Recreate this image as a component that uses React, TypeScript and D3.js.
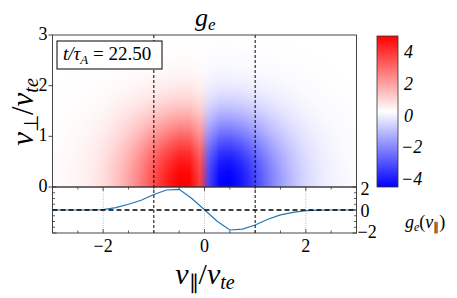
import * as d3 from 'd3';

const W = 457;
const H = 298;

// lower panel: g_e(v_par)
const vParLine = [-3, -2.75, -2.5, -2.25, -2, -1.75, -1.5, -1.25, -1, -0.75, -0.5, -0.25, 0,
  0.25, 0.5, 0.75, 1, 1.25, 1.5, 1.75, 2, 2.25, 2.5, 2.75, 3];
const gLine = [0, 0, 0, 0.01, 0.04, 0.2, 0.5, 0.85, 1.35, 1.74, 1.8, 1.0, 0.02,
  -0.98, -1.74, -1.66, -1.3, -0.8, -0.42, -0.2, -0.06, -0.01, 0, 0, 0];

// heat map: value near v_perp = 0 for each v_par cell, and the fall-off along v_perp
const vParCells = [-2.9, -2.7, -2.5, -2.3, -2.1, -1.9, -1.7, -1.5, -1.3, -1.1, -0.9, -0.7, -0.5, -0.3, -0.1,
  0.1, 0.3, 0.5, 0.7, 0.9, 1.1, 1.3, 1.5, 1.7, 1.9, 2.1, 2.3, 2.5, 2.7, 2.9];
const heatAtZero = [0.08, 0.12, 0.2, 0.32, 0.5, 0.8, 1.2, 1.7, 2.3, 3.0, 3.7, 4.3, 4.8, 4.7, 3.6,
  -3.6, -4.7, -4.8, -4.4, -3.8, -3.1, -2.4, -1.8, -1.3, -0.9, -0.6, -0.38, -0.24, -0.14, -0.08];
const vPerpCells = [0.1, 0.3, 0.5, 0.7, 0.9, 1.1, 1.3, 1.5, 1.7, 1.9, 2.1, 2.3, 2.5, 2.7, 2.9];
const perpFalloff = [1.0, 0.97, 0.9, 0.8, 0.67, 0.53, 0.4, 0.28, 0.18, 0.11, 0.06, 0.03, 0.015, 0.006, 0.002];

const xTicks = [-2, 0, 2];
const perpTicks = [0, 1, 2, 3];
const lineTicks = [-2, 0, 2];
const cbarTicks = [4, 2, 0, -2, -4];
const guideLines = [-1, 1];
const cLimit = 4.75;
const timeLabel = '22.50';

const TS = { fontFamily: '"Liberation Serif"' };
const AX = '#333';

const x = d3.scaleLinear().domain([-3, 3]).range([52.5, 356.5]);
const yPerp = d3.scaleLinear().domain([0, 3]).range([187, 35]);
const yLine = d3.scaleLinear().domain([-2, 2]).range([233, 187]);
const cbarY = d3.scaleLinear().domain([-cLimit, cLimit]).range([187, 36]);
const color = d3.scaleLinear<string>()
  .domain([-cLimit, 0, cLimit])
  .range(['#0000ff', '#ffffff', '#ff0000'])
  .clamp(true);

const minor = (lo: number, hi: number, step: number) => d3.range(lo, hi + 1e-9, step);
const fmt = (t: number) => (t < 0 ? '\u2212' + Math.abs(t) : String(t));

// tiny 24-bit bmp of the heat cells, the browser smooths it when scaled up
function heatBitmap(): string {
  const w = vParCells.length;
  const h = vPerpCells.length;
  const rowSize = Math.ceil((w * 3) / 4) * 4;
  const size = 54 + rowSize * h;
  const buf = new Uint8Array(size);
  const dv = new DataView(buf.buffer);
  buf[0] = 0x42; buf[1] = 0x4d;
  dv.setUint32(2, size, true);
  dv.setUint32(10, 54, true);
  dv.setUint32(14, 40, true);
  dv.setInt32(18, w, true);
  dv.setInt32(22, h, true); // bottom-up rows: first row is v_perp smallest
  dv.setUint16(26, 1, true);
  dv.setUint16(28, 24, true);
  dv.setUint32(34, rowSize * h, true);
  for (let j = 0; j < h; j++) {
    for (let i = 0; i < w; i++) {
      const c = d3.rgb(color(heatAtZero[i] * perpFalloff[j]));
      const o = 54 + j * rowSize + i * 3;
      buf[o] = Math.round(c.b);
      buf[o + 1] = Math.round(c.g);
      buf[o + 2] = Math.round(c.r);
    }
  }
  let s = '';
  buf.forEach(b => { s += String.fromCharCode(b); });
  return 'data:image/bmp;base64,' + btoa(s);
}

const heatUrl = heatBitmap();

export default function App() {
  const halfPar = (vParCells[1] - vParCells[0]) / 2;
  const halfPerp = (vPerpCells[1] - vPerpCells[0]) / 2;
  const imgX0 = x(vParCells[0] - halfPar);
  const imgX1 = x(vParCells[vParCells.length - 1] + halfPar);
  const imgY0 = yPerp(vPerpCells[vPerpCells.length - 1] + halfPerp);
  const imgY1 = yPerp(vPerpCells[0] - halfPerp);

  const line = d3.line<number>()
    .x((_, i) => x(vParLine[i]))
    .y(d => yLine(d));

  const [xl, xr] = x.range();

  return (
    <svg width={W} height={H} style={{ position: 'absolute', left: 0, top: 0 }}>
      <defs>
        <linearGradient id="bwr" x1="0" y1="0" x2="0" y2="1">
          <stop offset="0%" stopColor={color(cLimit)} />
          <stop offset="50%" stopColor={color(0)} />
          <stop offset="100%" stopColor={color(-cLimit)} />
        </linearGradient>
      </defs>

      {/* title */}
      <text x={195} y={26} fontSize={26} fontStyle="italic" style={TS}>
        g<tspan fontSize={17} dy={4}>e</tspan>
      </text>

      {/* heat map */}
      <image href={heatUrl} x={imgX0} y={imgY0} width={imgX1 - imgX0} height={imgY1 - imgY0}
        preserveAspectRatio="none" />

      {/* lower panel grid */}
      {xTicks.map(t => (
        <line key={'gx' + t} x1={x(t)} x2={x(t)} y1={yLine(2)} y2={yLine(-2)}
          stroke="#bbb" strokeWidth={0.8} strokeDasharray="1,1" />
      ))}

      {/* g_e(v_par) */}
      <path d={line(gLine) || ''} fill="none" stroke="#1f77b4" strokeWidth={1.2} />
      <line x1={xl} x2={xr} y1={yLine(0)} y2={yLine(0)} stroke="#000" strokeWidth={1.4}
        strokeDasharray="5,3" />

      {/* v_par = +-1 guides */}
      {guideLines.map(v => (
        <line key={'g' + v} x1={x(v)} x2={x(v)} y1={yPerp(3)} y2={yLine(-2)}
          stroke="#000" strokeWidth={1} strokeDasharray="3,2" />
      ))}

      {/* frames */}
      <rect x={xl} y={yPerp(3)} width={xr - xl} height={yPerp(0) - yPerp(3)}
        fill="none" stroke={AX} strokeWidth={0.9} />
      <rect x={xl} y={yLine(2)} width={xr - xl} height={yLine(-2) - yLine(2)}
        fill="none" stroke={AX} strokeWidth={0.9} />

      {/* heat map left axis */}
      {perpTicks.map(t => (
        <g key={'pt' + t}>
          <line x1={xl - 4} x2={xl} y1={yPerp(t)} y2={yPerp(t)} stroke={AX} strokeWidth={0.9} />
          <text x={xl - 5} y={yPerp(t)} dy={5} textAnchor="end" fontSize={18} style={TS}>{t}</text>
        </g>
      ))}

      {/* lower panel x ticks, inward, top and bottom */}
      {minor(-3, 3, 0.5).map(t => {
        const major = Math.abs(t - Math.round(t / 2) * 2) < 1e-6;
        const len = major ? 4 : 2.5;
        return (
          <g key={'xt' + t}>
            <line x1={x(t)} x2={x(t)} y1={yLine(-2)} y2={yLine(-2) - len} stroke={AX} strokeWidth={0.8} />
            <line x1={x(t)} x2={x(t)} y1={yLine(2)} y2={yLine(2) + len} stroke={AX} strokeWidth={0.8} />
          </g>
        );
      })}
      {xTicks.map(t => (
        <text key={'xl' + t} x={x(t)} y={252} textAnchor="middle" fontSize={18} style={TS}>{fmt(t)}</text>
      ))}

      {/* lower panel y ticks on right (and left), inward */}
      {minor(-2, 2, 0.5).map(t => {
        const major = Math.abs(t - Math.round(t / 2) * 2) < 1e-6;
        const len = major ? 4 : 2.5;
        return (
          <g key={'yt' + t}>
            <line x1={xr} x2={xr - len} y1={yLine(t)} y2={yLine(t)} stroke={AX} strokeWidth={0.8} />
            <line x1={xl} x2={xl + len} y1={yLine(t)} y2={yLine(t)} stroke={AX} strokeWidth={0.8} />
          </g>
        );
      })}
      {lineTicks.map(t => (
        <text key={'yl' + t} x={t < 0 ? xr + 1 : xr + 4} y={yLine(t)} dy={t > 0 ? 8 : t < 0 ? 5 : 7}
          fontSize={18} style={TS}>{fmt(t)}</text>
      ))}
      <text x={405} y={228} fontSize={18} fontStyle="italic" style={TS}>
        g<tspan fontSize={12} dy={3}>e</tspan><tspan dy={-3} fontStyle="normal">(</tspan>v
        <tspan fontSize={12} dy={3} fontStyle="normal">∥</tspan><tspan dy={-3} fontStyle="normal">)</tspan>
      </text>

      {/* time box */}
      <rect x={57} y={41} width={105} height={28} fill="#fff" stroke="#000" strokeWidth={1} />
      <text x={63} y={60} fontSize={19} style={TS}>
        <tspan fontStyle="italic">t/τ</tspan>
        <tspan fontStyle="italic" fontSize={13} dy={4}>A</tspan>
        <tspan dy={-4}> = {timeLabel}</tspan>
      </text>

      {/* axis labels */}
      <text transform="translate(33,112) rotate(-90)" textAnchor="middle" fontSize={31} fontStyle="italic" style={TS}>
        v<tspan fontSize={20} dy={5} fontStyle="normal">⊥</tspan><tspan dy={-5} fontStyle="normal">/</tspan>v
        <tspan fontSize={20} dy={5}>te</tspan>
      </text>
      <text x={205} y={284} textAnchor="middle" fontSize={30} fontStyle="italic" style={TS}>
        v<tspan fontSize={20} dy={5} fontStyle="normal">∥</tspan><tspan dy={-5} fontStyle="normal">/</tspan>v
        <tspan fontSize={20} dy={5}>te</tspan>
      </text>

      {/* colorbar */}
      <rect x={377} y={cbarY(cLimit)} width={21} height={cbarY(-cLimit) - cbarY(cLimit)}
        fill="url(#bwr)" stroke={AX} strokeWidth={0.8} />
      {cbarTicks.map(t => (
        <text key={'cb' + t} x={t < 0 ? 401 : 404} y={cbarY(t)} dy={10} fontSize={18} fontStyle="italic" style={TS}>
          {fmt(t)}
        </text>
      ))}
    </svg>
  );
}
